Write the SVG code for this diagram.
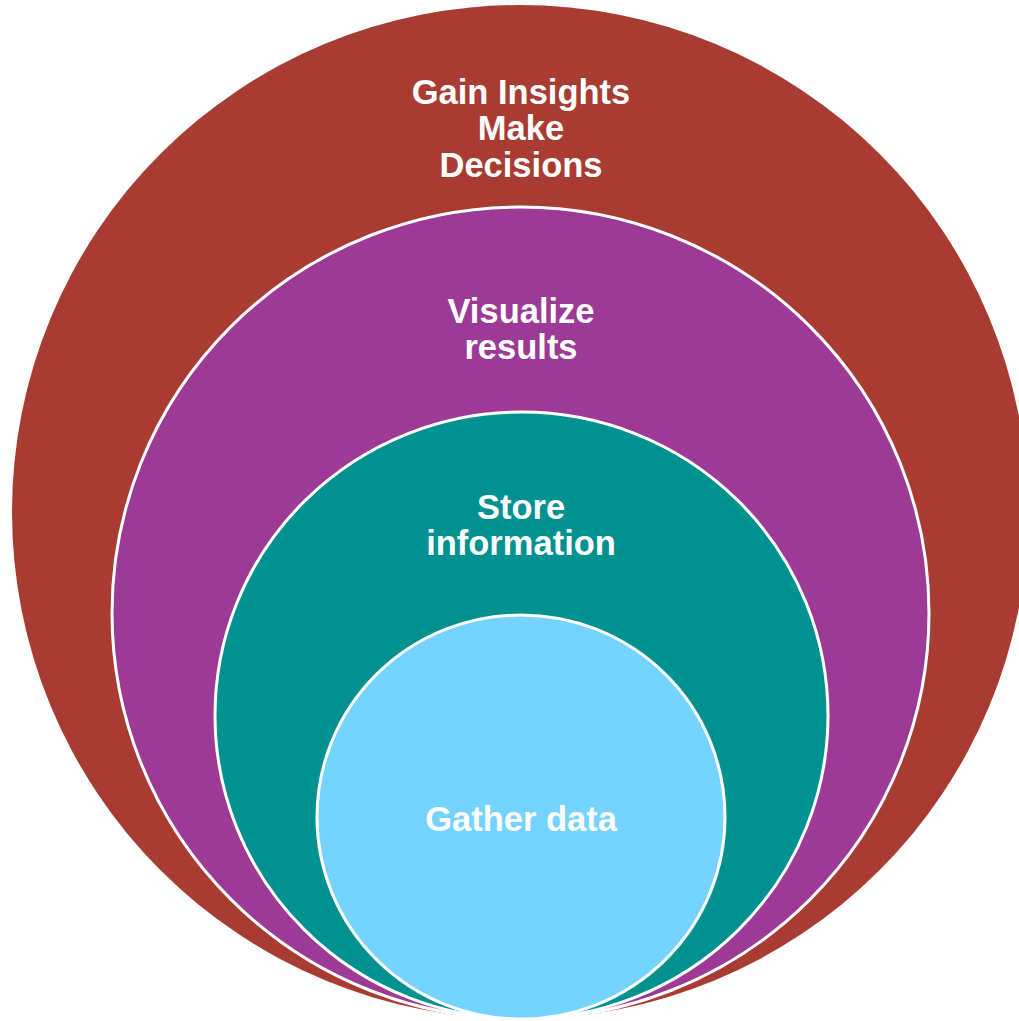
<svg xmlns="http://www.w3.org/2000/svg" width="1019" height="1021" viewBox="0 0 1019 1021">
<style>
.lbl{font-family:"Liberation Sans",Arial,sans-serif;font-weight:bold;font-size:34.5px;fill:#FFFFFF;text-anchor:middle}
.ring{stroke:#FFFFFF;stroke-width:3}
</style>
<rect width="1019" height="1021" fill="#FFFFFF"/>
<g id="insights">
<ellipse cx="520" cy="512" rx="508" ry="507" fill="#A93C32"/>
<text class="lbl" x="521" y="104">Gain Insights</text>
<text class="lbl" x="521" y="140">Make</text>
<text class="lbl" x="521" y="177">Decisions</text>
</g>
<g id="visualize">
<ellipse class="ring" cx="520.5" cy="613" rx="408.5" ry="406" fill="#9C3A96"/>
<text class="lbl" x="521" y="323">Visualize</text>
<text class="lbl" x="521" y="359">results</text>
</g>
<g id="store">
<ellipse class="ring" cx="521.5" cy="715.5" rx="306.5" ry="303.5" fill="#009190"/>
<text class="lbl" x="521" y="519">Store</text>
<text class="lbl" x="521" y="555">information</text>
</g>
<g id="gather">
<ellipse class="ring" cx="521" cy="817" rx="204" ry="202" fill="#75D3FF"/>
<text class="lbl" x="521" y="831">Gather data</text>
</g>
<g id="connectors"/>
</svg>
